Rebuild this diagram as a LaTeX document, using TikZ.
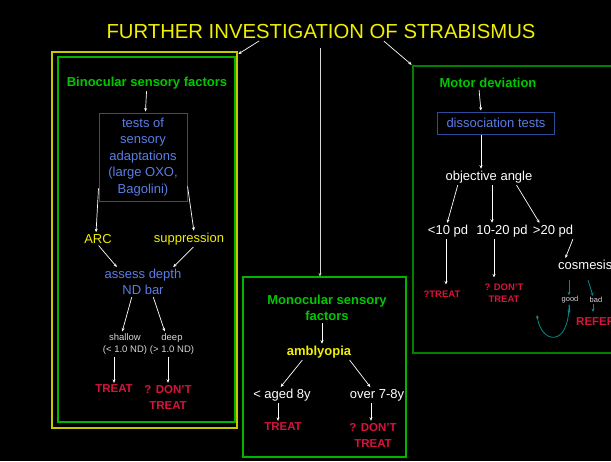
\documentclass[tikz,border=0pt]{standalone}
\usepackage{fontspec}
\setmainfont{Liberation Sans}
\usetikzlibrary{arrows.meta}
\definecolor{titleyellow}{RGB}{240,240,0}
\definecolor{frameyellow}{RGB}{200,200,0}
\definecolor{framegreen}{RGB}{0,180,0}
\definecolor{darkframe}{RGB}{0,130,0}
\definecolor{headgreen}{RGB}{0,200,0}
\definecolor{textblue}{RGB}{90,125,230}
\definecolor{boxblue}{RGB}{45,75,155}
\definecolor{warnred}{RGB}{215,20,60}
\definecolor{lightgrey}{RGB}{215,215,215}
\definecolor{loopteal}{RGB}{0,140,140}

\tikzset{
  head/.style={text=headgreen,font=\fontsize{13}{16}\selectfont\bfseries,align=center},
  bluetext/.style={text=textblue,font=\fontsize{13}{16.5}\selectfont,align=center},
  bluebox/.style={bluetext,draw=boxblue,line width=0.9pt},
  yel/.style={text=titleyellow,font=\fontsize{13}{16}\selectfont},
  plain/.style={text=white,font=\fontsize{13}{16}\selectfont,align=center},
  small/.style={text=lightgrey,font=\fontsize{9.5}{12}\selectfont,align=center},
  tiny/.style={text=lightgrey,font=\fontsize{7.5}{9}\selectfont},
  warn/.style={text=warnred,font=\fontsize{11.5}{16}\selectfont\bfseries,align=center},
  warnsmall/.style={text=warnred,font=\fontsize{9.5}{12}\selectfont\bfseries,align=center},
  link/.style={draw=white,line width=0.7pt,->,shorten >=1pt,shorten <=1pt},
  looplink/.style={draw=loopteal,line width=0.8pt,->},
  frame/.style={draw=#1,line width=1.1pt}
}

\begin{document}
\begin{tikzpicture}[x=1pt,y=-1pt,>={Stealth[length=3.5pt,width=3pt]},inner sep=1pt]
\fill[black] (0,0) rectangle (611,461);
\useasboundingbox (0,0) rectangle (611,461);

% title and frames
\node[text=titleyellow,font=\fontsize{20.3}{24}\selectfont] (title) at (321,32) {FURTHER INVESTIGATION OF STRABISMUS};
\node[frame=frameyellow,minimum width=185,minimum height=376] (binouter) at (144.5,240) {};
\node[frame=framegreen,minimum width=177,minimum height=365] (binframe) at (146.5,239.5) {};
\node[frame=framegreen,minimum width=163,minimum height=180] (monoframe) at (324.5,367) {};
\node[frame=darkframe,minimum width=207,minimum height=287] (motorframe) at (516.5,209.5) {};

\draw[link] ([xshift=-61pt]title.south) -- ([yshift=-3pt]binouter.north east);
\draw[link,draw=lightgrey,shorten <=8pt,shorten >=0pt] ([xshift=-4.5pt]monoframe.north |- title.south) -- ([xshift=-4.5pt]monoframe.north);
\draw[link] ([xshift=62pt]title.south) -- (motorframe.north west);

% binocular sensory factors
\node[head] (bin) at (147,83) {Binocular sensory factors};
\node[bluebox,minimum width=88,minimum height=88] (tests) at (143,157) {tests of\\sensory\\adaptations\\(large OXO,\\Bagolini)};
\node[yel] (arc) at (98,239) {ARC};
\node[yel] (supp) at (189,239) {suppression};
\node[bluetext] (assess) at (143,282) {assess depth\\ND bar};
\node[small] (shallow) at (125,344) {shallow\\(< 1.0 ND)};
\node[small] (deep) at (172,344) {deep\\(> 1.0 ND)};
\node[warn] (treatA) at (114,389) {TREAT};
\node[warn] (dontA) at (168,397) {? DON'T\\TREAT};

\draw[link] (bin) -- (tests);
\draw[link] ([yshift=14pt]tests.south west) -- ([xshift=-2pt]arc.north);
\draw[link] ([yshift=16pt]tests.south east) -- ([xshift=5pt]supp.north);
\draw[link] (arc.south) -- ([xshift=14pt]assess.north west);
\draw[link] ([xshift=5pt]supp.south) -- ([xshift=-10pt]assess.north east);
\draw[link] ([xshift=-11pt]assess.south) -- ([xshift=-3pt]shallow.north);
\draw[link] ([xshift=10pt]assess.south) -- ([xshift=-7pt]deep.north);
\draw[link] (shallow.south -| treatA) -- (treatA.north);
\draw[link] (deep.south -| dontA) -- (dontA.north);

% monocular sensory factors
\node[head] (mono) at (327,308) {Monocular sensory\\factors};
\node[text=titleyellow,font=\fontsize{13}{16}\selectfont\bfseries] (ambly) at (319,352) {amblyopia};
\node[plain] (young) at (282,395) {< aged 8y};
\node[plain] (old) at (377,395) {over 7-8y};
\node[warn] (treatB) at (283,427) {TREAT};
\node[warn] (dontB) at (373,435) {? DON'T\\TREAT};

\draw[link] ([xshift=-5pt]mono.south) -- ([xshift=3pt]ambly.north);
\draw[link] ([xshift=-16pt]ambly.south) -- ([xshift=-2pt]young.north);
\draw[link] ([xshift=30pt]ambly.south) -- ([xshift=-6pt]old.north);
\draw[link] ([xshift=-4pt]young.south) -- ([xshift=-5pt]treatB.north);
\draw[link] ([xshift=-6pt]old.south) -- ([xshift=-2pt]dontB.north);

% motor deviation
\node[head] (motor) at (488,83) {Motor deviation};
\node[bluebox,minimum width=117,minimum height=22] (dissoc) at (496,123) {dissociation tests};
\node[plain] (angle) at (489,177) {objective angle};
\node[plain] (lt) at (448,231) {<10 pd};
\node[plain] (mid) at (502,231) {10-20 pd};
\node[plain] (gt) at (553,231) {>20 pd};
\node[plain,anchor=west] (cosm) at (557,265) {cosmesis};
\node[warnsmall] (treatC) at (442,294) {?TREAT};
\node[warnsmall] (dontC) at (504,293) {? DON'T\\TREAT};
\node[tiny] (good) at (570,300) {good};
\node[tiny] (bad) at (596,300) {bad};
\node[warn,anchor=west] (refer) at (575,322) {REFER};
\coordinate (loopend) at (537,315);

\draw[link] ([xshift=-9pt]motor.south) -- ([xshift=-15pt]dissoc.north);
\draw[link] ([xshift=-15pt]dissoc.south) -- ([xshift=-8pt]angle.north);
\draw[link] ([xshift=-31pt]angle.south) -- ([xshift=-1pt]lt.north);
\draw[link] ([xshift=3pt]angle.south) -- ([xshift=-10pt]mid.north);
\draw[link] ([xshift=27pt]angle.south) -- ([xshift=-13pt]gt.north);
\draw[link] ([xshift=-2pt]lt.south) -- ([xshift=4pt,yshift=4pt]treatC.north);
\draw[link] ([xshift=-8pt]mid.south) -- ([xshift=-10pt,yshift=4pt]dontC.north);
\draw[link] ([xshift=-1pt]gt.south east) -- ([xshift=8pt]cosm.north west);

\draw[looplink] ([xshift=-1pt,yshift=15pt]good.north) -- ([xshift=-1pt]good.north);
\draw[looplink] ([xshift=-8pt,yshift=16pt]bad.north) -- ([xshift=-3pt]bad.north);
\draw[looplink] ([xshift=-3pt]bad.south) -- ++(0,8);
\draw[looplink] ([xshift=-1pt]good.south) -- ++(0,9);
\draw[looplink] ([xshift=-1pt]good.south) .. controls (569,348) and (541,344) .. (loopend);
\end{tikzpicture}
\end{document}
